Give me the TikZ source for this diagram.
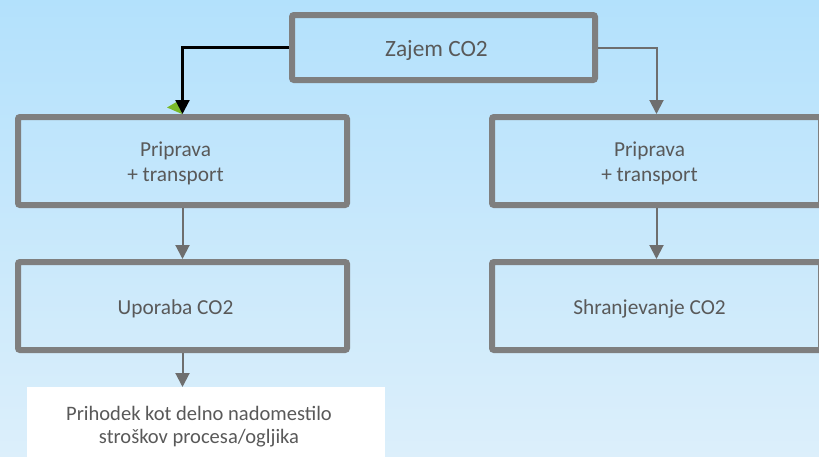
\documentclass[tikz,border=0pt]{standalone}
\usepackage{fontspec}
\setmainfont{Carlito}
\usetikzlibrary{arrows.meta}
\definecolor{bgtop}{HTML}{B3E1FC}
\definecolor{bgbot}{HTML}{DCEFFB}
\definecolor{boxline}{HTML}{7F7F7F}
\definecolor{conline}{HTML}{6E6E6E}
\definecolor{txt}{HTML}{595959}
\definecolor{tipgreen}{HTML}{7AB929}
\newcommand{\boxtext}[1]{\raisebox{0pt}[\dimexpr\height+4.5pt\relax][\depth]{\begin{tabular}{@{}c@{\hspace{10.5pt}}}#1\end{tabular}}}
\tikzset{
  procbox/.style={draw=boxline, line width=4.5pt, rounded corners=1.5pt,
    minimum width=246.75pt, minimum height=66pt, align=center, text=txt,
    inner sep=0pt, font=\fontsize{16}{19}\selectfont},
  topbox/.style={procbox, minimum width=227.25pt, minimum height=48.75pt,
    font=\fontsize{17.5}{21}\selectfont},
  notebox/.style={fill=white, minimum width=268.5pt, minimum height=55.5pt,
    align=center, text=txt, font=\fontsize{15.4}{17.5}\selectfont, inner sep=0pt},
  greyarrow/.style={draw=conline, line width=1.5pt,
    -{Triangle[length=10.5pt, width=10.5pt]}},
  blackarrow/.style={draw=black, line width=1.65pt,
    -{Triangle[length=10.5pt, width=10.5pt]}}
}
\begin{document}
\begin{tikzpicture}[x=0.75pt, y=-0.75pt]
\shade[top color=bgtop, bottom color=bgbot] (0,0) rectangle (819,457);
\useasboundingbox (0,0) rectangle (819,457);
\node[topbox] (top) at (443.5,47.5) {\boxtext{Zajem CO2}};
\node[procbox] (lp) at (182.5,161) {\boxtext{Priprava\\+ transport}};
\node[procbox] (rp) at (656.5,161) {\boxtext{Priprava\\+ transport}};
\node[procbox] (use) at (182.5,306) {\boxtext{Uporaba CO2}};
\node[procbox] (store) at (656.5,306) {\boxtext{Shranjevanje CO2}};
\node[notebox, anchor=north] (note) at (206,387) {\boxtext{Prihodek kot delno nadomestilo\\stroškov procesa/ogljika}};
\fill[tipgreen] (167,107.5) -- (179,100.5) -- (182,114) -- cycle;
\draw[blackarrow] (top.west) -| (lp.north);
\draw[greyarrow] (top.east) -| (rp.north);
\draw[greyarrow] (lp.south) -- (use.north);
\draw[greyarrow] (rp.south) -- (store.north);
\draw[greyarrow] (use.south) -- (use.south |- note.north);
\end{tikzpicture}
\end{document}
